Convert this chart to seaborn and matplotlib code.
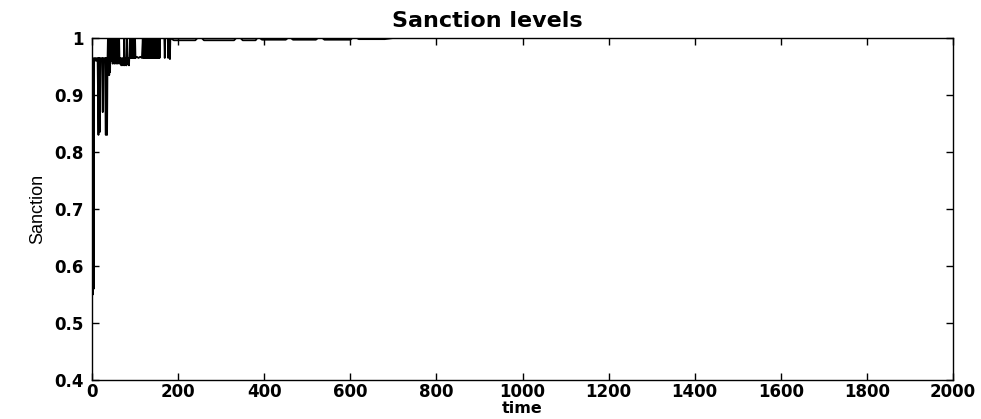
import matplotlib
matplotlib.use("Agg")
import matplotlib.pyplot as plt
import seaborn as sns
import pandas as pd

# ---- data ----
time_early = [0, 1, 2, 3, 4, 5, 7, 9, 11, 13, 15, 16, 18, 19, 21, 23, 25, 26, 28, 30,
              32, 33, 35, 36, 37, 38, 39, 40, 41, 42, 43, 44, 45, 46, 47, 48, 49,
              50, 51, 52, 53, 54, 55, 56, 57, 58, 59, 60, 61, 62, 63, 64, 66, 68,
              70, 72, 74, 75, 76, 78, 80, 81, 82, 84, 86, 88, 89, 90, 91, 92, 93,
              94, 95, 96, 97, 98, 99, 100, 101, 104, 108, 112, 116]
sanction_early = [0.545, 0.965, 0.55, 0.96, 0.56, 0.965, 0.96, 0.965, 0.96, 0.965,
                  0.83, 0.965, 0.835, 0.965, 0.96, 0.965, 0.87, 0.965, 0.96, 0.965,
                  0.83, 0.965, 0.83, 0.96, 1.0, 0.935, 1.0, 0.935, 0.998, 0.94, 1.0,
                  0.96, 0.999, 0.96, 1.0, 0.955, 0.998, 0.96, 1.0, 0.955, 0.999, 0.96,
                  1.0, 0.955, 0.998, 0.96, 1.0, 0.955, 0.999, 0.96, 1.0, 0.955, 0.965,
                  0.952, 0.965, 0.952, 0.965, 1.0, 0.952, 0.965, 0.952, 1.0, 0.955,
                  0.965, 0.952, 1.0, 0.965, 1.0, 0.965, 1.0, 0.965, 1.0, 0.965, 1.0,
                  0.965, 0.999, 0.965, 1.0, 0.965, 0.967, 0.965, 0.967, 0.965]

time_mid = [118, 119, 120, 121, 122, 123, 124, 125, 126, 127, 128, 129, 130, 131,
            132, 133, 134, 135, 136, 137, 138, 139, 140, 141, 142, 143, 144, 145,
            146, 147, 148, 149, 150, 151, 152, 153, 154, 155, 156, 157, 158, 160,
            168, 169, 170, 176, 177, 178, 180, 181, 182]
sanction_mid = [1.0, 0.965, 1.0, 0.965, 1.0, 0.965, 1.0, 0.965, 1.0, 0.965, 1.0,
                0.965, 1.0, 0.965, 1.0, 0.965, 1.0, 0.965, 1.0, 0.965, 1.0, 0.965,
                1.0, 0.965, 1.0, 0.965, 1.0, 0.965, 1.0, 0.965, 1.0, 0.965, 1.0,
                0.965, 1.0, 0.965, 1.0, 0.965, 1.0, 0.965, 1.0, 1.0, 1.0, 0.965,
                1.0, 1.0, 0.965, 1.0, 1.0, 0.963, 1.0]

time_late = [190, 240, 245, 255, 260, 330, 335, 345, 350, 380, 384, 390, 395,
             450, 455, 462, 467, 520, 525, 535, 540, 600, 605, 615, 620, 680,
             700, 2000]
sanction_late = [0.996, 0.996, 1.0, 1.0, 0.996, 0.996, 1.0, 1.0, 0.996, 0.996,
                 1.0, 1.0, 0.997, 0.997, 1.0, 1.0, 0.997, 0.997, 1.0, 1.0, 0.997,
                 0.997, 1.0, 1.0, 0.998, 0.998, 1.0, 1.0]

x_ticks = [0, 200, 400, 600, 800, 1000, 1200, 1400, 1600, 1800, 2000]
y_ticks = [0.4, 0.5, 0.6, 0.7, 0.8, 0.9, 1.0]
y_tick_labels = ["0.4", "0.5", "0.6", "0.7", "0.8", "0.9", "1"]

df = pd.DataFrame({
    "time": time_early + time_mid + time_late,
    "Sanction": sanction_early + sanction_mid + sanction_late,
})

# ---- figure ----
sns.set_style("white")
plt.rcParams["font.family"] = ["DejaVu Sans"]
plt.rcParams["text.color"] = "black"
plt.rcParams["axes.labelcolor"] = "black"
plt.rcParams["axes.titlecolor"] = "black"

fig = plt.figure(figsize=(9.81, 4.19), dpi=100)
ax = fig.add_axes([92 / 981, 1 - 380 / 419, (953 - 92) / 981, (380 - 38) / 419])

sns.lineplot(data=df, x="time", y="Sanction", color="black", linewidth=1.3,
             estimator=None, sort=False, ax=ax)
for ln in ax.get_lines():
    ln.set_solid_joinstyle("round")
    ln.set_clip_on(True)

ax.set_xlim(0, 2000)
ax.set_ylim(0.4, 1.0)
ax.set_xticks(x_ticks)
ax.set_xticklabels([str(t) for t in x_ticks], fontweight="bold", fontsize=12)
ax.set_yticks(y_ticks)
ax.set_yticklabels(y_tick_labels, fontweight="bold", fontsize=12)
ax.tick_params(direction="in", length=5, width=1, top=True, right=True,
               bottom=True, left=True, colors="black", pad=2)
ax.tick_params(axis="y", pad=6)
for s in ax.spines.values():
    s.set_color("black")
    s.set_linewidth(1.0)

ax.set_title("Sanction levels", fontsize=16, fontweight="bold", pad=8,
             x=(487 - 92) / (953 - 92), color="black")
ax.set_xlabel("time", fontsize=11.5, fontweight="bold", color="black")
ax.xaxis.set_label_coords(0.5, -0.062)
ax.set_ylabel("Sanction", fontsize=13, labelpad=6, color="black",
              fontfamily=["Liberation Sans Narrow", "Liberation Sans", "DejaVu Sans"])

fig.savefig("out.png", dpi=100, facecolor="white")
